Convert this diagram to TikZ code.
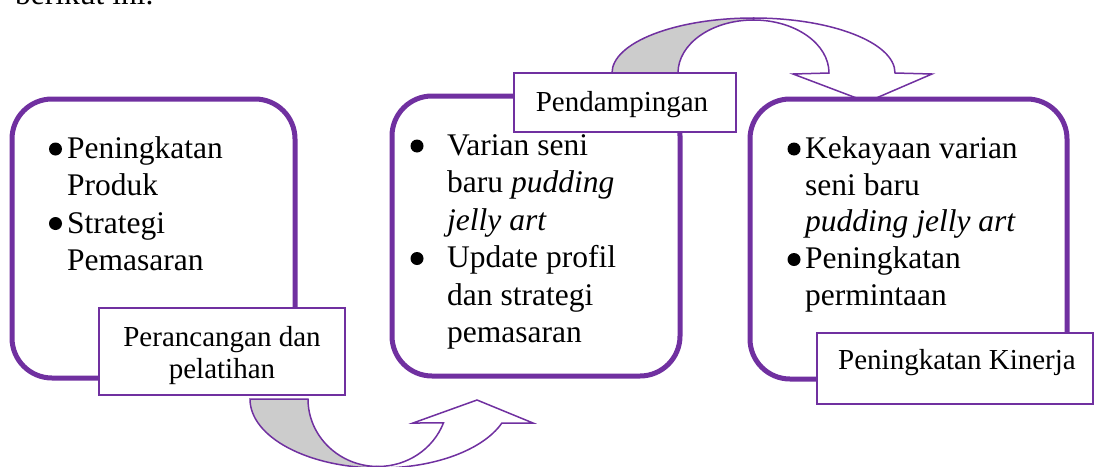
\documentclass[tikz,border=0pt]{standalone}
\usepackage{fontspec}
\setmainfont{Liberation Serif}
\definecolor{vio}{HTML}{7030A0}
\definecolor{shade}{HTML}{CCCCCC}
\tikzset{
 bigbox/.style={draw=vio, line width=5pt, rounded corners=40pt, fill=white, inner sep=0pt},
 labelbox/.style={draw=vio, line width=1.5pt, fill=white, inner sep=0pt},
 arrowback/.style={draw=vio, line width=1.5pt, fill=shade, line join=miter},
 arrowfront/.style={draw=vio, line width=1.5pt, fill=white, line join=miter},
 txt/.style={anchor=base west, inner sep=0pt, font=\fontsize{31.5}{37.5}\selectfont},
 lbl/.style={anchor=base, inner sep=0pt, font=\fontsize{29}{33}\selectfont},
 dot/.style={fill=black}
}
\begin{document}
\begin{tikzpicture}[x=1pt,y=-1pt]
\useasboundingbox (0,0) rectangle (1094,466);
\clip (0,0) rectangle (1094,466);

% cut-off line of running text
\node[txt] (prev) at (15,4) {berikut ini.};

% curved arrows
\draw[arrowback] (612,73) arc[start angle=180, end angle=270, x radius=141.5, y radius=55]
  -- (753.5,20) arc[start angle=270, end angle=180, x radius=75.5, y radius=53] -- cycle;
\draw[arrowfront] (753.5,18) arc[start angle=270, end angle=360, x radius=141.5, y radius=55]
  -- (932,74) -- (867,102) -- (793,74) -- (829,73)
  arc[start angle=0, end angle=-90, x radius=75.5, y radius=53] -- cycle;

\draw[arrowback] (250,399) arc[start angle=180, end angle=90, x radius=130, y radius=69]
  -- (378,466.5) arc[start angle=90, end angle=180, x radius=70, y radius=67.5] -- cycle;
\draw[arrowfront] (378,466.5) arc[start angle=90, end angle=20.8, x radius=70, y radius=67.5]
  -- (413,423) -- (477,400) -- (533,423) -- (501.9,423)
  arc[start angle=20.35, end angle=90, x radius=130, y radius=69] -- cycle;

% main boxes
\node[bigbox, minimum width=283pt, minimum height=279pt] (box1) at (153.5,238.5) {};
\node[bigbox, minimum width=288pt, minimum height=280pt] (box2) at (536,236) {};
\node[bigbox, minimum width=317pt, minimum height=280pt] (box3) at (908.5,239) {};

% box 1 text
\fill[dot] (55.5,149) circle[radius=6.5pt];
\fill[dot] (55.5,223.5) circle[radius=6.5pt];
\node[txt] (a1) at (67,158) {Peningkatan};
\node[txt] (a2) at (67,195.5) {Produk};
\node[txt] (a3) at (67,233) {Strategi};
\node[txt] (a4) at (67,270.5) {Pemasaran};

% box 2 text
\fill[dot] (417,146) circle[radius=6.5pt];
\fill[dot] (417,258.5) circle[radius=6.5pt];
\node[txt] (b1) at (447,155) {Varian seni};
\node[txt] (b2) at (447,192.5) {baru \textit{pudding}};
\node[txt] (b3) at (447,230) {\textit{jelly art}};
\node[txt] (b4) at (447,267.5) {Update profil};
\node[txt] (b5) at (447,305) {dan strategi};
\node[txt] (b6) at (447,342.5) {pemasaran};

% box 3 text
\fill[dot] (794,149) circle[radius=6.5pt];
\fill[dot] (794,259.5) circle[radius=6.5pt];
\node[txt] (c1) at (805,158) {Kekayaan varian};
\node[txt] (c2) at (805,195) {seni baru};
\node[txt] (c3) at (805,231) {\textit{pudding jelly art}};
\node[txt] (c4) at (805,268) {Peningkatan};
\node[txt] (c5) at (805,305) {permintaan};

% label boxes
\node[labelbox, minimum width=246pt, minimum height=87pt] (l1) at (222,351.5) {};
\node[lbl] (l1a) at (222,346) {Perancangan dan};
\node[lbl] (l1b) at (222,378) {pelatihan};

\node[labelbox, minimum width=222pt, minimum height=59pt] (l2) at (625,102.5) {};
\node[lbl] (l2a) at (622,111) {Pendampingan};

\node[labelbox, minimum width=276pt, minimum height=71pt] (l3) at (955,368.5) {};
\node[lbl] (l3a) at (957,369) {Peningkatan Kinerja};
\end{tikzpicture}
\end{document}
